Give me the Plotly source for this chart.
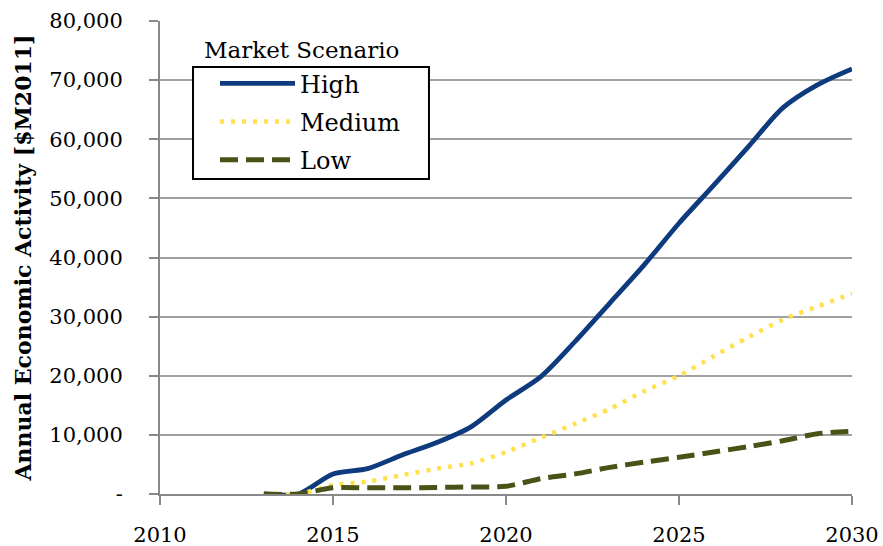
import plotly.graph_objects as go

years = [2013, 2014, 2015, 2016, 2017, 2018, 2019, 2020, 2021, 2022, 2023, 2024, 2025, 2026, 2027, 2028, 2029, 2030]
high = [0, 0, 3400, 4300, 6600, 8700, 11400, 15900, 19800, 25800, 32300, 38800, 45800, 52200, 58700, 65300, 69200, 71900]
medium = [0, 0, 1500, 2100, 3200, 4300, 5200, 7100, 9500, 11900, 14400, 17400, 20000, 23300, 26500, 29500, 31700, 33900]
low = [0, 0, 1050, 1050, 1050, 1100, 1200, 1300, 2600, 3400, 4500, 5400, 6200, 7100, 8000, 9000, 10200, 10600]

y_ticks = [0, 10000, 20000, 30000, 40000, 50000, 60000, 70000, 80000]
y_ticktext = ["-", "10,000", "20,000", "30,000", "40,000", "50,000", "60,000", "70,000", "80,000"]
x_ticks = [2010, 2015, 2020, 2025, 2030]

FONT = "DejaVu Serif, serif"

fig = go.Figure()
fig.add_trace(go.Scatter(x=years, y=high, name="High", mode="lines", legendgroup="h",
                         line=dict(color="#0E3B7E", width=4.8, shape="spline", smoothing=0.8)))
fig.add_trace(go.Scatter(x=years, y=medium, name="Medium", mode="lines", legendgroup="m",
                         line=dict(color="#FFE04F", width=4.5, dash="4px,7px", shape="spline", smoothing=0.8)))
fig.add_trace(go.Scatter(x=years, y=low, name="Low", mode="lines", legendgroup="l",
                         line=dict(color="#4A5217", width=5, dash="18px,8px", shape="spline", smoothing=0.8)))

fig.update_layout(
    width=883, height=546,
    margin=dict(l=160, r=31, t=21, b=52),
    plot_bgcolor="white", paper_bgcolor="white",
    font=dict(family=FONT, size=21, color="black"),
    showlegend=True,
    legend=dict(x=0.0795, y=0.915, xanchor="left", yanchor="top",
                borderwidth=0, bgcolor="rgba(0,0,0,0)",
                font=dict(size=24, family=FONT), itemwidth=75,
                tracegroupgap=4),
    shapes=[dict(type="rect", xref="paper", yref="paper",
                 x0=0.0477, x1=0.3887, y0=0.666, y1=0.9027,
                 line=dict(color="black", width=2), fillcolor="white", layer="above")],
    annotations=[dict(text="Market Scenario", xref="paper", yref="paper",
                      x=0.2038, y=0.938, xanchor="center", yanchor="middle",
                      showarrow=False, font=dict(size=23, family=FONT))],
)
fig.update_xaxes(range=[2010, 2030], tickvals=x_ticks, showgrid=False,
                 showline=True, linecolor="#888888", linewidth=2,
                 ticks="outside", tickcolor="#888888", ticklen=9, tickwidth=2,
                 ticklabelstandoff=12, automargin=False,
                 tickfont=dict(size=21, family=FONT), zeroline=False)
fig.update_yaxes(range=[0, 80000], tickvals=y_ticks, ticktext=y_ticktext,
                 showgrid=True, gridcolor="#A0A0A0", gridwidth=1.5,
                 showline=True, linecolor="#888888", linewidth=2,
                 ticks="outside", tickcolor="#888888", ticklen=9, tickwidth=2,
                 ticklabelstandoff=22, automargin=False,
                 tickfont=dict(size=21, family=FONT), zeroline=False,
                 title=dict(text="<b>Annual Economic Activity [$M2011]</b>",
                            font=dict(size=22, family=FONT), standoff=12))

fig.write_html("out.html", post_script="document.body.style.margin='0px';",
               config={"displayModeBar": False})
